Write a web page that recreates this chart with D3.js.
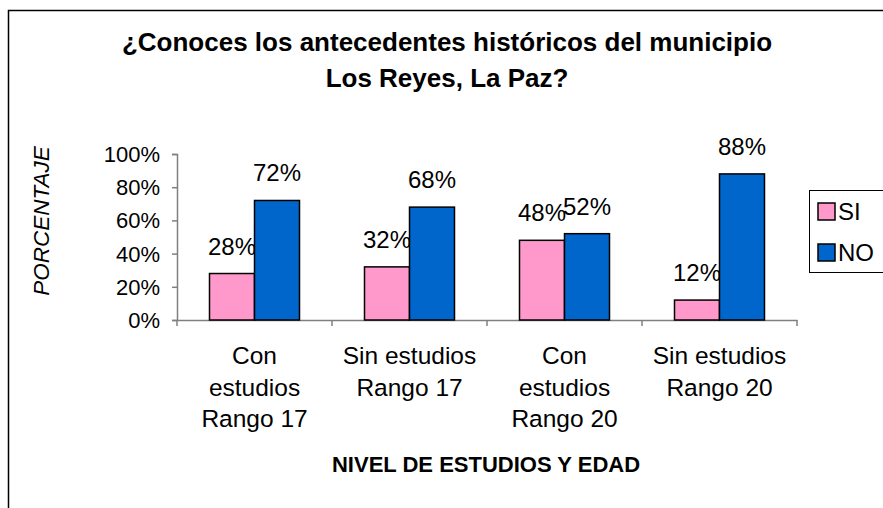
<!DOCTYPE html>
<html>
<head>
<meta charset="utf-8">
<script src="https://cdn.jsdelivr.net/npm/d3@7/dist/d3.min.js"></script>
<style>
  body { margin: 0; background: #fff; }
  text { font-family: "Liberation Sans", Arial, sans-serif; fill: #000; }
</style>
</head>
<body>
<div id="chart"></div>
<script>
// data
var categories = [["Con", "estudios", "Rango 17"], ["Sin estudios", "Rango 17"], ["Con", "estudios", "Rango 20"], ["Sin estudios", "Rango 20"]];
var seriesNames = ["SI", "NO"];
var siValues = [28, 32, 48, 12];
var noValues = [72, 68, 52, 88];
var yTicks = [0, 20, 40, 60, 80, 100];
var colors = ["#FF99CC", "#0066CC"];

var width = 883, height = 508;
var plot = { left: 177, right: 797, top: 154, bottom: 320 };

var svg = d3.select('#chart').append('svg').attr('width', width).attr('height', height);

// frame (runs off right and bottom like the original)
svg.append('rect').attr('x', 8.5).attr('y', 10.5).attr('width', 950).attr('height', 600)
    .attr('fill', 'none').attr('stroke', '#000').attr('stroke-width', 1.5);

function label(g, x, y, txt, size, opts) {
    opts = opts || {};
    var t = g.append('text')
        .attr('transform', 'translate(' + x + ',' + y + ')' + (opts.rotate ? ' rotate(' + opts.rotate + ')' : ''))
        .attr('text-anchor', opts.anchor || 'middle')
        .style('font-size', size + 'px')
        .text(txt);
    if (opts.bold) t.style('font-weight', 'bold');
    if (opts.italic) t.style('font-style', 'italic');
    if (opts.dy) t.attr('dy', opts.dy);
    return t;
}

// title
label(svg, 447, 51, '¿Conoces los antecedentes históricos del municipio', 26, { bold: true });
label(svg, 447, 87, 'Los Reyes, La Paz?', 26, { bold: true });

var x = d3.scaleBand().domain(d3.range(categories.length)).range([plot.left, plot.right]);
var inner = d3.scaleBand().domain([0, 1]).range([0, 90]);
var y = d3.scaleLinear().domain([0, 100]).range([plot.bottom, plot.top]);

// y axis
var yAxis = svg.append('g').attr('transform', 'translate(' + plot.left + ',0)')
    .call(d3.axisLeft(y).tickValues(yTicks).tickSize(5).tickFormat(''));
yAxis.select('.domain').attr('stroke', '#808080').attr('stroke-width', 1.5);
yAxis.selectAll('.tick line').attr('stroke', '#808080').attr('stroke-width', 1.5);
yTicks.forEach(function(v) {
    label(svg, 160, y(v), v + '%', 22, { anchor: 'end', dy: '0.36em' });
});

// x axis
var xAxis = svg.append('g').attr('transform', 'translate(0,' + plot.bottom + ')')
    .call(d3.axisBottom(x).tickSize(0).tickFormat(''));
xAxis.select('.domain').attr('stroke', '#808080').attr('stroke-width', 1.5);
d3.range(categories.length + 1).forEach(function(i) {
    var px = i < categories.length ? x(i) : x.range()[1];
    svg.append('line').attr('x1', px).attr('x2', px).attr('y1', plot.bottom).attr('y2', plot.bottom + 6)
        .attr('stroke', '#808080').attr('stroke-width', 1.5);
});

// bars
var series = [siValues, noValues];
series.forEach(function(vals, s) {
    vals.forEach(function(v, i) {
        var bx = x(i) + (x.bandwidth() - 90) / 2 + inner(s);
        svg.append('rect')
            .attr('x', bx).attr('y', y(v))
            .attr('width', inner.bandwidth()).attr('height', y(0) - y(v))
            .attr('fill', colors[s]).attr('stroke', '#000').attr('stroke-width', 1.5);
        label(svg, bx + inner.bandwidth() / 2, y(v) - 19, v + '%', 24);
    });
});

// category labels
categories.forEach(function(lines, i) {
    lines.forEach(function(l, j) {
        label(svg, x(i) + x.bandwidth() / 2, 364 + j * 31.5, l, 24.5);
    });
});

// axis titles
label(svg, 486, 472, 'NIVEL DE ESTUDIOS Y EDAD', 22, { bold: true });
label(svg, 49, 221, 'PORCENTAJE', 22.5, { italic: true, rotate: -90 });

// legend
var legend = svg.append('g');
legend.append('rect').attr('x', 809.5).attr('y', 190.5).attr('width', 100).attr('height', 82)
    .attr('fill', '#fff').attr('stroke', '#000').attr('stroke-width', 1);
seriesNames.forEach(function(n, i) {
    legend.append('rect').attr('x', 818).attr('y', 203 + i * 41).attr('width', 17).attr('height', 17)
        .attr('fill', colors[i]).attr('stroke', '#000').attr('stroke-width', 1.5);
    label(legend, 838, 220 + i * 41, n, 24, { anchor: 'start' });
});
</script>
</body>
</html>
